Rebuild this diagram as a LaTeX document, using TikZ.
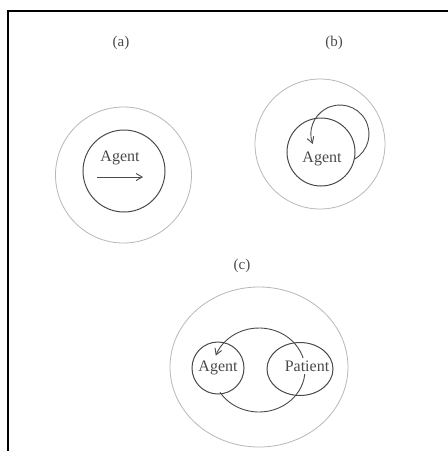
\documentclass[tikz,border=0pt]{standalone}
\usepackage{fontspec}
\setmainfont{Liberation Serif}
\usetikzlibrary{arrows.meta,shapes.geometric}
\definecolor{ink}{HTML}{4A4A4A}
\definecolor{pale}{HTML}{B8B8B8}
\begin{document}
\begin{tikzpicture}[x=1pt,y=-1pt,
  ring/.style={draw=pale,line width=0.8pt,inner sep=0pt,outer sep=0pt},
  disc/.style={circle,draw=ink,line width=1pt,inner sep=0pt,outer sep=0pt},
  bubble/.style={ellipse,draw=ink,line width=1pt,inner sep=0pt,outer sep=0pt},
  word/.style={text=ink,font=\fontsize{16}{18}\selectfont,inner sep=1pt},
  tag/.style={text=ink,font=\fontsize{15}{17}\selectfont},
  flow/.style={draw=ink,line width=0.9pt,-{Straight Barb[length=6pt,width=7pt]}}]
\useasboundingbox (0,0) rectangle (448,451);
\fill[white] (0,0) rectangle (448,451);

% frame (top and left edges)
\coordinate (frameTL) at (8,11);
\coordinate (frameTR) at (448,11);
\coordinate (frameBL) at (8,451);
\draw[line width=1.6pt] (frameTR) -- (frameTL) -- (frameBL);

% panel labels
\node[tag] (la) at (121,43) {(a)};
\node[tag] (lb) at (334,43) {(b)};
\node[tag] (lc) at (242,266) {(c)};

% (a) agent acting outward
\node[ring,circle,minimum size=136pt] (aOuter) at (123.5,175) {};
\node[disc,minimum size=82pt] (aAgent) at (124,171) {};
\node[word] (aText) at (120,158) {Agent};
\coordinate (aFrom) at (97,177);
\coordinate (aTo) at (143,177);
\draw[flow] (aFrom) -- (aTo);

% (b) agent acting on itself
\node[ring,circle,minimum size=130pt] (bOuter) at (320,144) {};
\node[disc,minimum size=68pt] (bAgent) at (321,152) {};
\node[word] (bText) at (322,159) {Agent};
\coordinate (bLoop) at (340,134);
\draw[flow] ([shift={(60:29)}]bLoop) arc[start angle=60,end angle=-200,radius=29];

% (c) agent acting on a patient
\node[ring,ellipse,minimum width=178pt,minimum height=160pt] (cOuter) at (259,367) {};
\coordinate (cLoop) at (259,370);
\draw[flow] ([shift={(148:46 and 42)}]cLoop) arc[start angle=148,end angle=-160,x radius=46,y radius=42];
\node[word] (cAgentText) at (218,368) {Agent};
\node[word,fill=white,inner ysep=3pt] (cPatientText) at (307,366) {Patient};
\node[bubble,minimum width=52pt,minimum height=52pt] (cAgent) at (218,368) {};
\node[bubble,minimum width=66pt,minimum height=53pt] (cPatient) at (300,369) {};
\end{tikzpicture}
\end{document}
